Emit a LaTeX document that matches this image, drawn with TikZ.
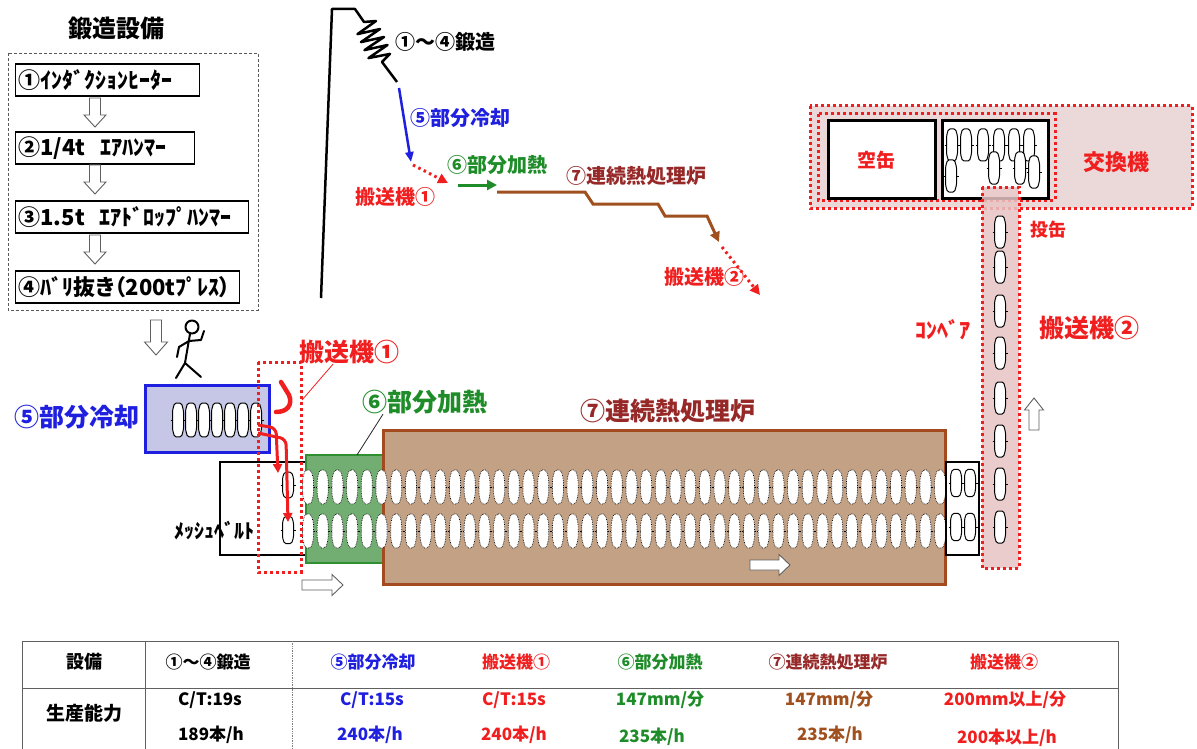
\documentclass[tikz,border=0pt]{standalone}
\usepackage{fontspec}
\newfontfamily\jp{Noto Sans CJK JP}
\usetikzlibrary{arrows.meta}
% full-width circled digits
\newcommand\cn[1]{{\addfontfeature{RawFeature=+fwid}#1}}

\definecolor{cblue}{HTML}{1F1FE0}
\definecolor{cred}{HTML}{F01E1E}
\definecolor{cgreen}{HTML}{1E8C28}
\definecolor{cmaroon}{HTML}{962828}
\definecolor{cbrown}{HTML}{A0501E}
\definecolor{furnfill}{HTML}{C2A185}
\definecolor{furnedge}{HTML}{A34A1E}
\definecolor{heatfill}{HTML}{72AE72}
\definecolor{heatedge}{HTML}{2E9030}
\definecolor{coolfill}{HTML}{C6C6E6}
\definecolor{pinkfill}{HTML}{E8C4C4}
\definecolor{pinklight}{HTML}{EBD9D9}
\definecolor{tline}{HTML}{606060}

\begin{document}
\begin{tikzpicture}[x=1pt,y=-1pt,
  lbl/.style={font=\jp\bfseries\fontsize{20}{24}\selectfont, inner sep=0pt},
  big/.style={font=\jp\bfseries\fontsize{25}{30}\selectfont, inner sep=0pt},
  tbl/.style={font=\jp\bfseries\fontsize{17}{20}\selectfont, inner sep=0pt},
  fbox/.style={draw, line width=1.2pt, inner xsep=3pt, inner ysep=0pt,
    minimum height=32pt, align=left, anchor=west,
    font=\jp\bfseries\fontsize{22}{26}\selectfont\addfontfeature{RawFeature=+palt}},
  reddot/.style={draw=cred, line width=3pt, dash pattern=on 3pt off 3pt},
  hollow/.style={draw=gray!75!black, fill=white, line width=0.9pt},
  tip/.style={-{Triangle[length=10pt,width=10pt]}},
  solidcan/.pic={
    \draw[line width=1pt, fill=white, rounded corners=1.5pt]
      (-3.5,-16) -- (3.5,-16) -- (5.5,-9) -- (5.5,9) -- (3.5,16)
      -- (-3.5,16) -- (-5.5,9) -- (-5.5,-9) -- cycle;
    \draw[line width=0.7pt] (-7.5,0) -- (-5.5,0) (5.5,0) -- (7.5,0);
  },
  dotcan/.pic={
    \draw[line width=0.7pt, densely dotted, fill=white, rounded corners=2pt]
      (-3,-17) -- (3,-17) -- (5.5,-8) -- (5.5,8) -- (3,17)
      -- (-3,17) -- (-5.5,8) -- (-5.5,-8) -- cycle;
  }]
\useasboundingbox (0,0) rectangle (1197,749);
\fill[white] (0,0) rectangle (1197,749);

% ---------- forging line ----------
\node[big, font=\jp\bfseries\fontsize{24}{28}\selectfont] (ttl) at (116,28) {鍛造設備};
\draw[gray!70!black, line width=0.9pt, dash pattern=on 3pt off 2pt] (8,53) rectangle (258,310);
\node[fbox, text width=178pt] (f1) at (15,80) {\cn{①}ｲﾝﾀﾞｸｼｮﾝﾋｰﾀｰ};
\node[fbox, text width=173pt] (f2) at (15,148) {\cn{②}1/4t\ \ ｴｱﾊﾝﾏｰ};
\node[fbox, text width=227pt] (f3) at (15,217) {\cn{③}1.5t\ \ ｴｱﾄﾞﾛｯﾌﾟﾊﾝﾏｰ};
\node[fbox, text width=218pt] (f4) at (15,287) {\cn{④}ﾊﾞﾘ抜き（200tﾌﾟﾚｽ）};
\foreach \y in {98,165,235}
  \draw[hollow] (95,\y) ++(-5.5,0) -- ++(11,0) -- ++(0,17) -- ++(5.5,0)
    -- ++(-11,12) -- ++(-11,-12) -- ++(5.5,0) -- cycle;

% ---------- temperature profile ----------
\draw[line width=2.5pt, line join=round] (321,298) -- (332,9) -- (355,9) -- (364,22)
  -- (376,21) -- (357.5,34.1) -- (380,29) -- (361,42.1) -- (384,37)
  -- (364.5,50.1) -- (387.5,45) -- (368.5,58.1) -- (390,53.9) -- (382,62) -- (397,82);
\node[lbl, anchor=west] (forge) at (395,42) {\cn{①}～\cn{④}鍛造};
\node[lbl, anchor=west, text=cblue] (cool) at (410,118) {\cn{⑤}部分冷却};
\node[lbl, anchor=west, text=cred] (t1) at (355,197) {搬送機\cn{①}};
\node[lbl, anchor=west, text=cgreen] (heat) at (447,165) {\cn{⑥}部分加熱};
\node[lbl, anchor=west, text=cmaroon] (furn) at (566,176) {\cn{⑦}連続熱処理炉};
\node[lbl, anchor=west, text=cred] (t2) at (664,277) {搬送機\cn{②}};
\draw[cblue, line width=2.5pt, -{Triangle[length=10pt,width=8pt]}] (399,88) -- (411,162);
\draw[cred, line width=3pt, dash pattern=on 2.5pt off 3.5pt, tip] (413,165) -- (448,183);
\draw[cgreen, line width=3pt, tip] (458,185) -- (497,185);
\draw[cbrown, line width=3pt, tip] (497,192) -- (585,192) -- (593,204) -- (658,204)
  -- (665,216) -- (707,216) -- (719,242);
\draw[cred, line width=3pt, dash pattern=on 2.5pt off 3.5pt, tip] (722,247) -- (760,295);

% ---------- can exchanger ----------
\draw[reddot, fill=pinklight] (810,106) rectangle (1192,208);
\draw[reddot] (818,114) rectangle (1055,200);
\draw[line width=3pt, fill=white] (828,121) rectangle (935,198);
\draw[line width=3pt, fill=white] (942,121) rectangle (1048,198);
\foreach \x in {952,966,983,999,1014,1029} \pic at (\x,145) {solidcan};
\pic at (951,176) {solidcan};
\pic at (994,168) {solidcan};
\pic at (1020,168) {solidcan};
\pic at (1034,172) {solidcan};
\node[lbl, font=\jp\bfseries\fontsize{19}{22}\selectfont, text=cred] (empty) at (876,160) {空缶};
\node[big, font=\jp\bfseries\fontsize{22}{26}\selectfont, text=cred] (exch) at (1116,162) {交換機};

% ---------- conveyor ----------
\draw[reddot, fill=pinkfill, fill opacity=0.85] (982,187) rectangle (1019,568);
\foreach \y in {232,267,311,353,398,441,484,527} \pic at (1000,\y) {solidcan};
\node[lbl, font=\jp\bfseries\fontsize{18}{22}\selectfont, text=cred] (throw) at (1048,230) {投缶};
\node[lbl, font=\jp\bfseries\fontsize{22}{26}\selectfont, text=cred] (conv) at (943,330) {ｺﾝﾍﾞｱ};
\node[big, text=cred] (t2L) at (1089,328) {搬送機\cn{②}};
\draw[hollow] (1034,398) -- ++(9.5,12) -- ++(-4.5,0) -- ++(0,20) -- ++(-10,0)
  -- ++(0,-20) -- ++(-4.5,0) -- cycle;

% ---------- operator and cooling ----------
\draw[hollow] (156,320) ++(-5.5,0) -- ++(11,0) -- ++(0,22) -- ++(6,0)
  -- ++(-11.5,13) -- ++(-11.5,-13) -- ++(6,0) -- cycle;
\draw[line width=2pt, line cap=round, line join=round]
  (192,327) circle[radius=6.5]
  (190,334) -- (185,363) -- (176,378)
  (185,363) -- (201,377)
  (189,341) -- (179,347) -- (177,357)
  (189,341) -- (201,340) -- (204,331);
\draw[draw=cblue, line width=3pt, fill=coolfill] (145,385) rectangle (269,452);
\draw[line width=0.6pt] (171,420) -- (263,420);
\foreach \x in {178,191,204,217,230,243,256} \pic[yscale=1.05] at (\x,420) {solidcan};
\node[big, anchor=west, text=cblue] (coolL) at (14,417) {\cn{⑤}部分冷却};

% ---------- mesh belt, heater, furnace ----------
\draw[line width=2.5pt] (305,462) -- (220,462) -- (220,555) -- (305,555);
\node[lbl, font=\jp\bfseries\fontsize{20}{22}\selectfont, anchor=west] (mesh) at (174,531) {ﾒｯｼｭﾍﾞﾙﾄ};
\pic[yscale=0.8] at (288,485) {solidcan};
\pic[yscale=0.85] at (288,530) {solidcan};
\draw[draw=heatedge, line width=2.5pt, fill=heatfill] (306,455) rectangle (383,563);
\draw[draw=furnedge, line width=3pt, fill=furnfill] (383,430) rectangle (945,584);
\draw[densely dotted, line width=0.5pt] (302,487) -- (945,487) (302,531) -- (945,531);
\foreach \i in {0,...,43} {
  \pic at ({308+14.7*\i},487) {dotcan};
  \pic at ({308+14.7*\i},531) {dotcan};
}
\draw[line width=2.5pt, fill=white] (946,462) rectangle (979,555);
\foreach \x in {956,970} {
  \pic[yscale=0.85] at (\x,483) {solidcan};
  \pic[yscale=0.85] at (\x,527) {solidcan};
}
\draw[hollow] (302,580) -- ++(30,0) -- ++(0,-5.5) -- ++(11,10.5) -- ++(-11,10.5)
  -- ++(0,-5.5) -- ++(-30,0) -- cycle;
\draw[hollow] (750,560) -- ++(29,0) -- ++(0,-5.5) -- ++(11,10.5) -- ++(-11,10.5)
  -- ++(0,-5.5) -- ++(-29,0) -- cycle;
\node[big, anchor=west, text=cgreen] (heatL) at (362,402) {\cn{⑥}部分加熱};
\node[big, anchor=west, text=cmaroon] (furnL) at (580,411) {\cn{⑦}連続熱処理炉};
\coordinate (heattop) at (357,455);
\draw[line width=0.8pt, gray!30!black] (heattop) -- ([xshift=21pt]heatL.south west);

% ---------- transfer unit 1 ----------
\draw[reddot] (258,362) rectangle (301,572);
\node[big, anchor=west, text=cred] (t1L) at (299,352) {搬送機\cn{①}};
\coordinate (t1box) at (302,400);
\draw[cred, line width=0.8pt] (t1box) -- ([xshift=34pt]t1L.south west);
\draw[cred, line width=4.5pt, line cap=round]
  (281,382) -- (289,395) .. controls (293,405) and (287,412) .. (276,412);
\draw[cred, line width=3pt, rounded corners=6pt, -{Triangle[length=9pt,width=9pt]}]
  (258,425) -- (276,428) -- (278,473);
\draw[cred, line width=3pt, rounded corners=6pt, -{Triangle[length=9pt,width=9pt]}]
  (258,433) -- (286,439) -- (288,522);

% ---------- capacity table ----------
\draw[tline, line width=1pt] (22,749) -- (22,641) -- (1118,641) -- (1118,749);
\draw[tline, line width=1pt] (22,688) -- (1118,688);
\draw[tline, line width=1pt] (145,641) -- (145,749);
\draw[gray, densely dotted, line width=0.7pt] (292,641) -- (292,749);
\node[tbl, font=\jp\bfseries\fontsize{18}{22}\selectfont] (h0) at (84,662) {設備};
\node[tbl] (h1) at (208,662) {\cn{①}～\cn{④}鍛造};
\node[tbl, text=cblue] (h2) at (373,662) {\cn{⑤}部分冷却};
\node[tbl, text=cred] (h3) at (516,662) {搬送機\cn{①}};
\node[tbl, text=cgreen] (h4) at (660,662) {\cn{⑥}部分加熱};
\node[tbl, text=cmaroon] (h5) at (828,662) {\cn{⑦}連続熱処理炉};
\node[tbl, text=cred] (h6) at (1004,662) {搬送機\cn{②}};
\node[tbl, font=\jp\bfseries\fontsize{19}{22}\selectfont] (r0) at (84,713) {生産能力};
\node[tbl] (a1) at (210,700) {C/T:19s};
\node[tbl] (b1) at (211,735) {189本/h};
\node[tbl, text=cblue] (a2) at (372,700) {C/T:15s};
\node[tbl, text=cblue] (b2) at (370,735) {240本/h};
\node[tbl, text=cred] (a3) at (514,700) {C/T:15s};
\node[tbl, text=cred] (b3) at (514,735) {240本/h};
\node[tbl, text=cgreen] (a4) at (660,700) {147mm/分};
\node[tbl, text=cgreen] (b4) at (652,737) {235本/h};
\node[tbl, text=cbrown] (a5) at (829,700) {147mm/分};
\node[tbl, text=cbrown] (b5) at (830,735) {235本/h};
\node[tbl, text=cred] (a6) at (1005,700) {200mm以上/分};
\node[tbl, text=cred] (b6) at (1007,738) {200本以上/h};
\end{tikzpicture}
\end{document}
